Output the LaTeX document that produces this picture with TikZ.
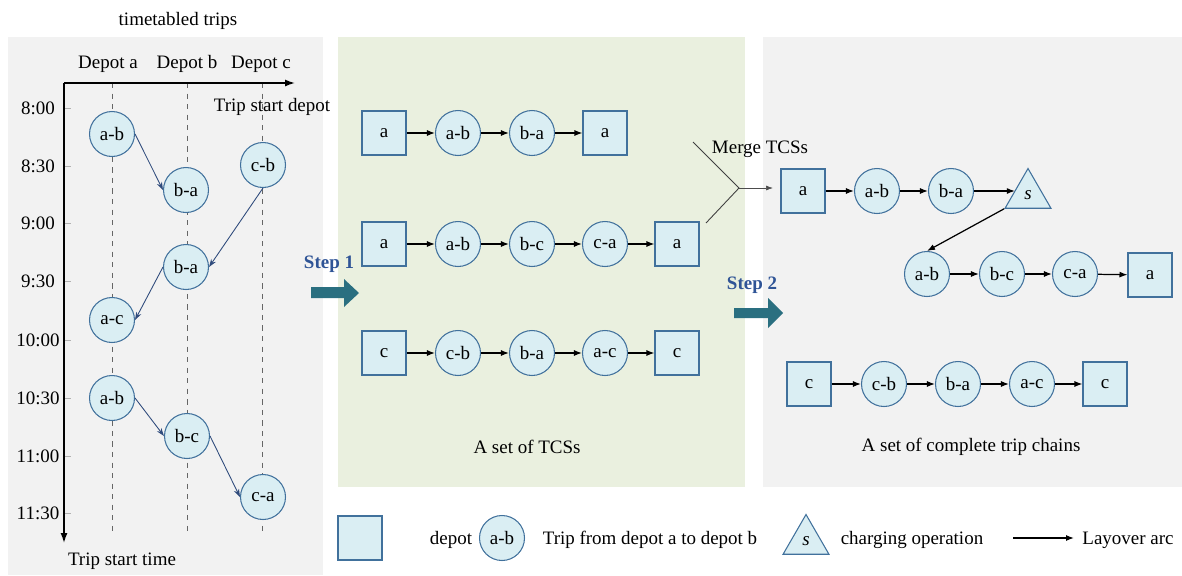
\documentclass[tikz,border=0pt]{standalone}
\usepackage{fontspec}
\setmainfont{Liberation Serif}
\usetikzlibrary{shapes.geometric,arrows.meta,calc}
\definecolor{panelgray}{HTML}{F2F2F2}
\definecolor{panelgreen}{HTML}{EAF0DF}
\definecolor{nodefill}{HTML}{DAEEF3}
\definecolor{nodeline}{HTML}{41719C}
\definecolor{navy}{HTML}{2F4B7C}
\definecolor{stepblue}{HTML}{2F5496}
\definecolor{steparrow}{HTML}{2A6F80}
\begin{document}
\begin{tikzpicture}[x=0.02cm,y=-0.02cm,
  every node/.style={font=\fontsize{10.8}{13}\selectfont, inner sep=0pt},
  trip/.style={circle, draw=nodeline, fill=nodefill, line width=0.6pt, minimum size=0.9cm},
  depot/.style={rectangle, draw=nodeline, fill=nodefill, line width=0.6pt, minimum size=0.88cm},
  charge/.style={regular polygon, regular polygon sides=3, draw=nodeline, fill=nodefill, line width=0.6pt, minimum size=1.06cm},
  lay/.style={-{Latex[length=0.16cm,width=0.12cm]}, line width=0.7pt, black},
  tt/.style={-{Stealth[length=0.16cm,width=0.11cm]}, line width=0.5pt, navy},
  axis/.style={-{Latex[length=0.2cm,width=0.14cm]}, line width=0.8pt, black},
  guide/.style={dashed, line width=0.4pt, gray!80!black},
  tick/.style={line width=0.4pt, gray!60},
  steplbl/.style={font=\fontsize{10.8}{13}\selectfont\bfseries, text=stepblue},
  merge/.style={line width=0.5pt, black!75}
]
\useasboundingbox (0,0) rectangle (1182,575);
% panels
\fill[panelgray] (8,37) rectangle (323,575);
\fill[panelgreen] (338,37) rectangle (745,487);
\fill[panelgray] (763,37) rectangle (1182,487);

% ---------- left panel ----------
\node (title) at (178,21) {timetabled trips};
\node (da) at (108,64) {Depot a};
\node (db) at (187,64) {Depot b};
\node (dc) at (261,64) {Depot c};
\coordinate (origin) at (64,83);
\coordinate (xend) at (295,83);
\coordinate (yend) at (64,543);
\foreach \x/\n in {112/ga,187/gb,262/gc}{
  \coordinate (\n top) at (\x,83);
  \coordinate (\n bot) at (\x,535);
  \draw[guide] (\n top) -- (\n bot);
}
\foreach \y/\t [count=\i] in {108/8:00,166/8:30,223/9:00,281/9:30,340/10:00,398/10:30,456/11:00,513/11:30}{
  \node (time\i) at (38,\y) {\t};
  \coordinate (tk\i a) at (64,\y);
  \coordinate (tk\i b) at (71,\y);
  \draw[tick] (tk\i a) -- (tk\i b);
}
\draw[axis] (origin) -- (xend);
\draw[axis] (origin) -- (yend);
\node (xlab) at (272,107) {Trip start depot};
\node (ylab) at (122,561) {Trip start time};

\node[trip] (L1) at (112,134) {a-b};
\node[trip] (L2) at (186,190) {b-a};
\node[trip] (L3) at (263,165) {c-b};
\node[trip] (L4) at (186,267) {b-a};
\node[trip] (L5) at (112,320) {a-c};
\node[trip] (L6) at (112,398) {a-b};
\node[trip] (L7) at (187,436) {b-c};
\node[trip] (L8) at (263,497) {c-a};
\draw[tt] (L1.east) -- (L2.west);
\draw[tt] (L3.south) -- (L4.east);
\draw[tt] (L4.west) -- (L5.east);
\draw[tt] (L6.east) -- (L7.west);
\draw[tt] (L7.east) -- (L8.west);

% ---------- step arrows ----------
\node[steplbl] (s1) at (329,264) {Step 1};
\fill[steparrow] (311,287) -- (344,287) -- (344,279) -- (359,293) -- (344,307) -- (344,298) -- (311,298) -- cycle;
\node[steplbl] (s2) at (752,285) {Step 2};
\fill[steparrow] (734,308) -- (768,308) -- (768,298) -- (783,313) -- (768,328) -- (768,318) -- (734,318) -- cycle;

% ---------- middle panel ----------
\node[depot] (M1a) at (384,133) {a};
\node[trip]  (M1b) at (458,133) {a-b};
\node[trip]  (M1c) at (532,133) {b-a};
\node[depot] (M1d) at (605,133) {a};
\draw[lay] (M1a) -- (M1b);
\draw[lay] (M1b) -- (M1c);
\draw[lay] (M1c) -- (M1d);

\node[depot] (M2a) at (384,244) {a};
\node[trip]  (M2b) at (458,244) {a-b};
\node[trip]  (M2c) at (532,244) {b-c};
\node[trip]  (M2d) at (605,244) {c-a};
\node[depot] (M2e) at (677,244) {a};
\draw[lay] (M2a) -- (M2b);
\draw[lay] (M2b) -- (M2c);
\draw[lay] (M2c) -- (M2d);
\draw[lay] (M2d) -- (M2e);

\node[depot] (M3a) at (384,353) {c};
\node[trip]  (M3b) at (458,353) {c-b};
\node[trip]  (M3c) at (532,353) {b-a};
\node[trip]  (M3d) at (605,353) {a-c};
\node[depot] (M3e) at (677,353) {c};
\draw[lay] (M3a) -- (M3b);
\draw[lay] (M3b) -- (M3c);
\draw[lay] (M3c) -- (M3d);
\draw[lay] (M3d) -- (M3e);

\node (tcs) at (527,447) {A set of TCSs};

% ---------- merge ----------
\coordinate (mu) at (693,142);
\coordinate (mm) at (739,188);
\coordinate (ml) at (706,223);
\coordinate (mt) at (773,188);
\draw[merge] (mu) -- (mm) -- (ml);
\draw[-{Latex[length=0.14cm,width=0.1cm]}, line width=0.4pt, black!70] (mm) -- (mt);
\node (mlab) at (760,149) {Merge TCSs};

% ---------- right panel ----------
\node[depot]  (R1a) at (803,191) {a};
\node[trip]   (R1b) at (877,191) {a-b};
\node[trip]   (R1c) at (951,191) {b-a};
\node[charge] (R1s) at (1028,195) {\textit{s}};
\coordinate (R1sl) at ($(R1s.corner 1)!0.55!(R1s.corner 2)$);
\draw[lay] (R1a) -- (R1b);
\draw[lay] (R1b) -- (R1c);
\draw[lay] (R1c.east) -- (R1c.east -| R1sl);

\node[trip]  (R2a) at (927,274) {a-b};
\node[trip]  (R2b) at (1002,274) {b-c};
\node[trip]  (R2c) at (1075,274) {c-a};
\node[depot] (R2d) at (1150,275) {a};
\draw[lay] (R1s.corner 2) -- (R2a.north);
\draw[lay] (R2a) -- (R2b);
\draw[lay] (R2b) -- (R2c);
\draw[lay] (R2c) -- (R2d);

\node[depot] (R3a) at (809,384) {c};
\node[trip]  (R3b) at (884,384) {c-b};
\node[trip]  (R3c) at (958,384) {b-a};
\node[trip]  (R3d) at (1032,384) {a-c};
\node[depot] (R3e) at (1105,384) {c};
\draw[lay] (R3a) -- (R3b);
\draw[lay] (R3b) -- (R3c);
\draw[lay] (R3c) -- (R3d);
\draw[lay] (R3d) -- (R3e);

\node (ctc) at (971,447) {A set of complete trip chains};

% ---------- legend ----------
\node[depot] (Kd) at (360,538) {};
\node (Kdt) at (451,540) {depot};
\node[trip] (Kt) at (502,538) {a-b};
\node (Ktt) at (650,540) {Trip from depot a to depot b};
\node[charge] (Ks) at (806,541) {\textit{s}};
\node (Kst) at (912,540) {charging operation};
\coordinate (Ka1) at (1013,538);
\coordinate (Ka2) at (1074,538);
\draw[lay] (Ka1) -- (Ka2);
\node (Kat) at (1128,540) {Layover arc};
\end{tikzpicture}
\end{document}
